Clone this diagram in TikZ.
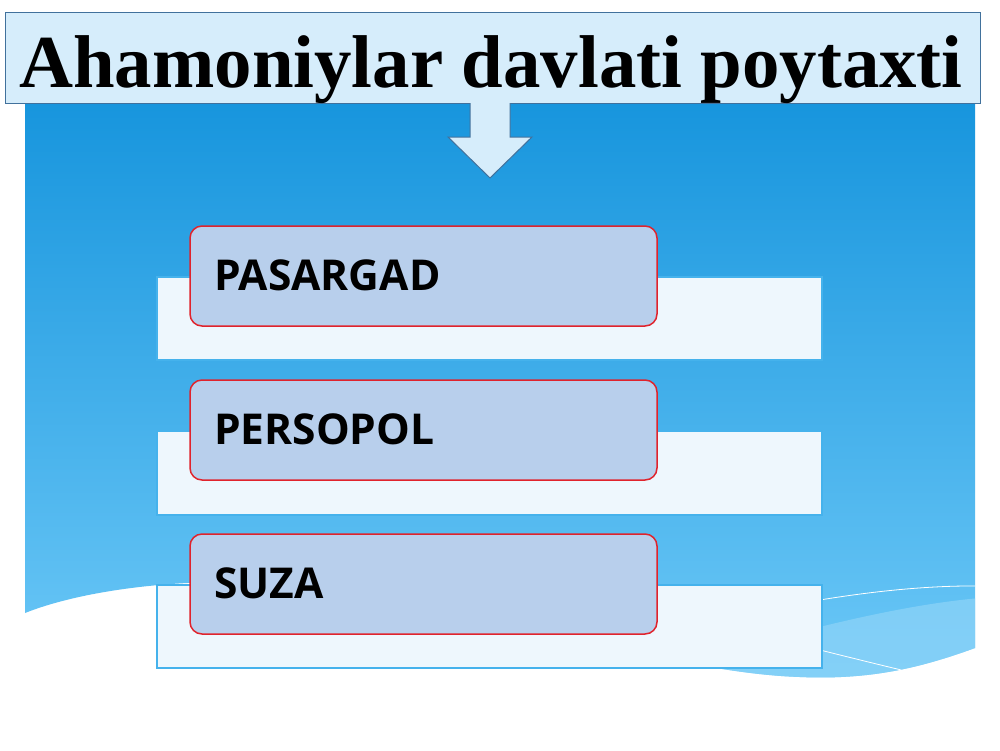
\documentclass[tikz,border=0pt]{standalone}
\usepackage{fontspec}
\setmainfont{Liberation Serif}
\newfontfamily\boxfont{Open Sans}
\definecolor{titlefill}{HTML}{D6EDFB}
\definecolor{titledraw}{HTML}{41719C}
\definecolor{bgtop}{HTML}{1795DD}
\definecolor{bgbot}{HTML}{6CC8F7}
\definecolor{barfill}{HTML}{EEF7FD}
\definecolor{bardraw}{HTML}{45B2EC}
\definecolor{boxfill}{HTML}{B8CFEC}
\definecolor{boxdraw}{HTML}{E0232C}
\definecolor{lightwave}{HTML}{8ED4F8}
\begin{document}
\begin{tikzpicture}[x=1pt,y=-1pt,
  bar/.style={fill=barfill,draw=bardraw,line width=1.2pt},
  itembox/.style={fill=boxfill,draw=boxdraw,line width=1.5pt,rounded corners=12pt},
  itemtext/.style={font=\boxfont\bfseries\fontsize{42.5}{42.5}\selectfont,anchor=base west,inner sep=0pt},
  wave/.style={draw=white,line width=0.8pt}]
\useasboundingbox (0,0) rectangle (1000,750);
\fill[white] (0,0) rectangle (1000,750);
% blue background with wavy bottom
\shade[top color=bgtop,bottom color=bgbot]
  (25,100) -- (975,100) -- (975,648)
  .. controls (920,668) and (870,680) .. (800,677)
  .. controls (650,672) and (450,590) .. (250,582)
  .. controls (150,580) and (70,595) .. (25,613) -- cycle;
\begin{scope}
  \clip (25,100) -- (975,100) -- (975,648)
  .. controls (920,668) and (870,680) .. (800,677)
  .. controls (650,672) and (450,590) .. (250,582)
  .. controls (150,580) and (70,595) .. (25,613) -- cycle;
  \fill[lightwave,opacity=0.7] (700,660) .. controls (800,630) and (900,605) .. (980,598) -- (980,700) -- (700,700) -- cycle;
  \draw[wave] (700,625) .. controls (800,600) and (900,585) .. (980,586);
  \draw[wave] (800,645) .. controls (840,655) and (880,665) .. (910,672);
\end{scope}
% title
\node[fill=titlefill,draw=titledraw,line width=1pt,minimum width=975pt,minimum height=91pt,inner sep=0pt] (title) at (492.5,57.5) {};
\node[font=\bfseries\fontsize{74.8}{74.8}\selectfont,anchor=base,inner sep=0pt] (titletext) at (491,87) {Ahamoniylar davlati poytaxti};
% down arrow
\coordinate (arrowtip) at (490,178);
\draw[fill=titlefill,draw=titledraw,line width=1pt]
  (470,103) -- (470,137) -- (448,137) -- (arrowtip) -- (532,137) -- (510,137) -- (510,103);
% bars
\node[bar,minimum width=665pt,minimum height=83pt,inner sep=0pt] (bar1) at (489.5,318.5) {};
\node[bar,minimum width=665pt,minimum height=84pt,inner sep=0pt] (bar2) at (489.5,473) {};
\node[bar,minimum width=665pt,minimum height=83pt,inner sep=0pt] (bar3) at (489.5,626.5) {};
% item boxes
\node[itembox,minimum width=467pt,minimum height=100pt,inner sep=0pt] (box1) at (423.5,276) {};
\node[itembox,minimum width=467pt,minimum height=100pt,inner sep=0pt] (box2) at (423.5,430) {};
\node[itembox,minimum width=467pt,minimum height=100pt,inner sep=0pt] (box3) at (423.5,584) {};
\node[itemtext] (t1) at (214,290) {PASARGAD};
\node[itemtext] (t2) at (214,444) {PERSOPOL};
\node[itemtext] (t3) at (214,598) {SUZA};
\end{tikzpicture}
\end{document}
